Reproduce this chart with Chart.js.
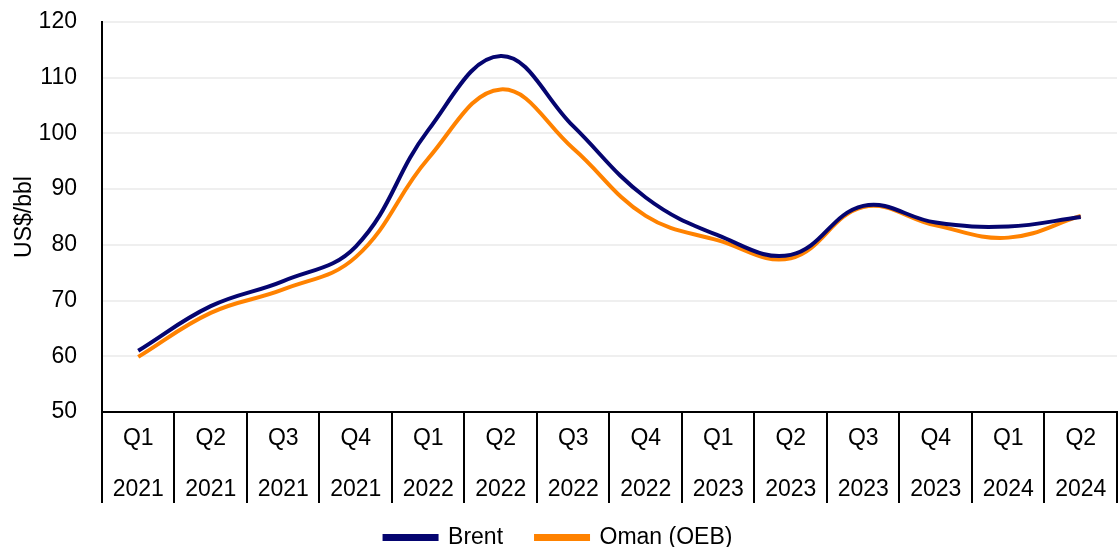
<!DOCTYPE html>
<html>
<head>
<meta charset="utf-8">
<script src="https://cdn.jsdelivr.net/npm/chart.js@4.4.1/dist/chart.umd.min.js"></script>
<style>
html,body{margin:0;padding:0;background:#fff;}
#wrap{width:1119px;height:547px;}
</style>
</head>
<body>
<div id="wrap"><canvas id="c" width="1119" height="547"></canvas></div>
<script>
const quarters = ['Q1','Q2','Q3','Q4','Q1','Q2','Q3','Q4','Q1','Q2','Q3','Q4','Q1','Q2'];
const years = ['2021','2021','2021','2021','2022','2022','2022','2022','2023','2023','2023','2023','2024','2024'];
const brent = [61.0, 69.0, 73.5, 79.7, 100.6, 113.9, 101.3, 88.5, 81.7, 78.2, 87.0, 84.0, 83.3, 85.0];
const oman  = [59.9, 67.8, 72.0, 77.8, 95.5, 107.9, 97.3, 85.2, 80.8, 77.6, 86.8, 83.5, 81.3, 85.2];
const yTicks = [50, 60, 70, 80, 90, 100, 110, 120];

const labels = quarters.map((q, i) => [q, years[i]]);
const FONT = 'Liberation Sans, Arial';

const separators = {
  id: 'separators',
  afterDraw(chart) {
    const x = chart.scales.x;
    const ctx = chart.ctx;
    const n = x.ticks.length;
    const w = (x.right - x.left) / n;
    ctx.save();
    ctx.strokeStyle = '#000';
    ctx.lineWidth = 2;
    ctx.beginPath();
    for (let i = 0; i <= n; i++) {
      const px = Math.round(x.left + i * w);
      ctx.moveTo(px, x.top);
      ctx.lineTo(px, x.top + 91);
    }
    ctx.stroke();
    ctx.restore();
  }
};

new Chart(document.getElementById('c'), {
  type: 'line',
  data: {
    labels: labels,
    datasets: [
      { label: 'Brent', data: brent, borderColor: '#050570', backgroundColor: '#050570', borderWidth: 4, tension: 0.4, pointRadius: 0 },
      { label: 'Oman (OEB)', data: oman, borderColor: '#FF8200', backgroundColor: '#FF8200', borderWidth: 4, tension: 0.4, pointRadius: 0 }
    ]
  },
  options: {
    responsive: false,
    animation: false,
    layout: { padding: { top: 22, right: 2, left: 0, bottom: -12 } },
    plugins: {
      legend: {
        position: 'bottom',
        labels: {
          font: { family: FONT, size: 23 },
          color: '#000',
          boxWidth: 52,
          boxHeight: 3,
          padding: 10,
          generateLabels(chart) {
            const items = Chart.defaults.plugins.legend.labels.generateLabels(chart);
            items.forEach((it, i) => { if (i < items.length - 1) it.text = it.text + '\u2003'; });
            return items;
          }
        }
      },
      tooltip: { enabled: false }
    },
    scales: {
      x: {
        offset: true,
        grid: { display: false, drawTicks: false },
        border: { display: true, color: '#000', width: 2 },
        ticks: {
          autoSkip: false,
          maxRotation: 0,
          padding: 1,
          color: '#000',
          font: { family: FONT, size: 23, lineHeight: 2.217 }
        }
      },
      y: {
        min: 50,
        max: 120,
        afterBuildTicks(scale) { scale.ticks = yTicks.map(v => ({ value: v })); },
        grid: { color: '#efefef', lineWidth: 2, drawTicks: true, tickLength: 25, tickColor: 'rgba(0,0,0,0)' },
        border: { display: true, color: '#000', width: 2 },
        ticks: {
          padding: 0,
          color: '#000',
          font: { family: FONT, size: 23 }
        },
        title: {
          display: true,
          text: 'US$/bbl',
          color: '#000',
          font: { family: FONT, size: 23 },
          padding: { top: 11, bottom: 0 }
        }
      }
    }
  },
  plugins: [separators]
});
</script>
</body>
</html>
